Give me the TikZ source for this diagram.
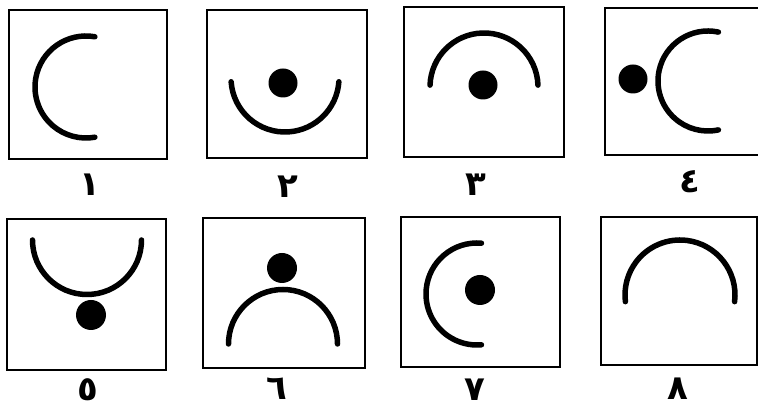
\documentclass[tikz,border=0pt]{standalone}
\usepackage{fontspec}
\newfontfamily\arabicfont[Script=Arabic]{DejaVu Sans}
\TeXXeTstate=1
\usepackage{tikz}

\begin{document}
\begin{tikzpicture}[x=1pt, y=1pt, box/.style={draw, line width=2.4pt, inner sep=0pt}, arcline/.style={line width=5.5pt, line cap=round}, dot/.style={circle, fill, inner sep=0pt, minimum size=29pt}, num/.style={font=\arabicfont\bfseries\fontsize{34}{34}\selectfont, inner sep=0pt}]
	\useasboundingbox (0,0) rectangle (758,411);
	% first row
	\node[box, minimum width=158pt, minimum height=149pt] (b1) at (88,326.5) {};
	\node[box, minimum width=160pt, minimum height=148pt] (b2) at (287,327) {};
	\node[box, minimum width=160pt, minimum height=150pt] (b3) at (484,329) {};
	\node[box, minimum width=158pt, minimum height=147pt] (b4) at (684,329.5) {};
	% second row
	\node[box, minimum width=159pt, minimum height=151pt] (b5) at (86.5,116.5) {};
	\node[box, minimum width=162pt, minimum height=150pt] (b6) at (284,118) {};
	\node[box, minimum width=159pt, minimum height=150pt] (b7) at (480.5,119) {};
	\node[box, minimum width=156pt, minimum height=148pt] (b8) at (679,120) {};
	% arcs
	\draw[arcline] (86,324) ++(80:51) arc[start angle=80, end angle=280, radius=51];
	\draw[arcline] (285,333) ++(184:54) arc[start angle=184, end angle=356, radius=54];
	\draw[arcline] (484,324) ++(2:54) arc[start angle=2, end angle=178, radius=54];
	\draw[arcline] (708,330) ++(78:50) arc[start angle=78, end angle=282, radius=50];
	\draw[arcline] (87,171) ++(180:54.5) arc[start angle=180, end angle=360, radius=54.5];
	\draw[arcline] (283,67) ++(0:54.5) arc[start angle=0, end angle=180, radius=54.5];
	\draw[arcline] (477,117) ++(85:51) arc[start angle=85, end angle=275, radius=51];
	\draw[arcline] (680,116) ++(-7:55) arc[start angle=-7, end angle=187, radius=55];
	% dots
	\node[dot] (d2) at (283,328) {};
	\node[dot] (d3) at (483,326) {};
	\node[dot] (d4) at (633,332) {};
	\node[dot, minimum size=30pt] (d5) at (91,96) {};
	\node[dot, minimum size=30pt] (d6) at (282,143) {};
	\node[dot, minimum size=30pt] (d7) at (480,121) {};
	% numbers
	\node[num] (l1) at (90,226) {\beginR ١\endR};
	\node[num] (l2) at (288,224) {\beginR ٢\endR};
	\node[num] (l3) at (476,226) {\beginR ٣\endR};
	\node[num] (l4) at (690,229) {\beginR ٤\endR};
	\node[num] (l5) at (88,21) {\beginR ٥\endR};
	\node[num] (l6) at (277,22) {\beginR ٦\endR};
	\node[num] (l7) at (475,21) {\beginR ٧\endR};
	\node[num] (l8) at (678,22) {\beginR ٨\endR};
\end{tikzpicture}
\end{document}
